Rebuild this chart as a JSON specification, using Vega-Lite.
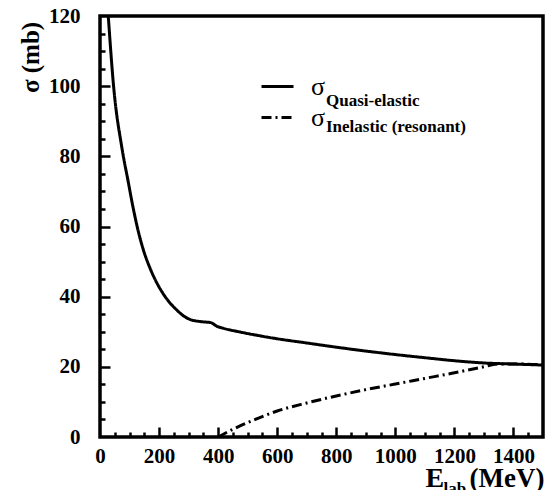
{
  "$schema": "https://vega.github.io/schema/vega-lite/v6.json",
  "width": 443,
  "height": 421,
  "autosize": "none",
  "padding": {"left": 100, "top": 16, "right": 5, "bottom": 53},
  "background": "white",
  "config": {
    "view": {"stroke": "black", "strokeWidth": 3.5},
    "axis": {
      "grid": false,
      "domain": false,
      "labelColor": "black",
      "titleColor": "black",
      "labelFontWeight": "bold",
      "titleFontWeight": "bold",
      "labelFlush": false,
      "labelOverlap": false,
      "format": "d"
    },
    "legend": {"labelColor": "black"}
  },
  "data": {
    "values": [
      {"E": 28, "sigma": 120, "series": "Quasi-elastic"},
      {"E": 46, "sigma": 100, "series": "Quasi-elastic"},
      {"E": 75, "sigma": 82, "series": "Quasi-elastic"},
      {"E": 95, "sigma": 73, "series": "Quasi-elastic"},
      {"E": 113, "sigma": 65, "series": "Quasi-elastic"},
      {"E": 130, "sigma": 58.5, "series": "Quasi-elastic"},
      {"E": 147, "sigma": 53.3, "series": "Quasi-elastic"},
      {"E": 170, "sigma": 48, "series": "Quasi-elastic"},
      {"E": 192, "sigma": 44, "series": "Quasi-elastic"},
      {"E": 215, "sigma": 40.7, "series": "Quasi-elastic"},
      {"E": 237, "sigma": 38.2, "series": "Quasi-elastic"},
      {"E": 260, "sigma": 36.2, "series": "Quasi-elastic"},
      {"E": 280, "sigma": 34.7, "series": "Quasi-elastic"},
      {"E": 305, "sigma": 33.5, "series": "Quasi-elastic"},
      {"E": 340, "sigma": 32.9, "series": "Quasi-elastic"},
      {"E": 375, "sigma": 32.6, "series": "Quasi-elastic"},
      {"E": 395, "sigma": 31.6, "series": "Quasi-elastic"},
      {"E": 417, "sigma": 31, "series": "Quasi-elastic"},
      {"E": 470, "sigma": 30, "series": "Quasi-elastic"},
      {"E": 531, "sigma": 29, "series": "Quasi-elastic"},
      {"E": 600, "sigma": 28, "series": "Quasi-elastic"},
      {"E": 700, "sigma": 26.8, "series": "Quasi-elastic"},
      {"E": 800, "sigma": 25.6, "series": "Quasi-elastic"},
      {"E": 900, "sigma": 24.5, "series": "Quasi-elastic"},
      {"E": 1000, "sigma": 23.5, "series": "Quasi-elastic"},
      {"E": 1100, "sigma": 22.6, "series": "Quasi-elastic"},
      {"E": 1219, "sigma": 21.6, "series": "Quasi-elastic"},
      {"E": 1300, "sigma": 21.1, "series": "Quasi-elastic"},
      {"E": 1400, "sigma": 20.8, "series": "Quasi-elastic"},
      {"E": 1500, "sigma": 20.5, "series": "Quasi-elastic"},
      {"E": 400, "sigma": 0, "series": "Inelastic (resonant)"},
      {"E": 450, "sigma": 2.2, "series": "Inelastic (resonant)"},
      {"E": 500, "sigma": 4.1, "series": "Inelastic (resonant)"},
      {"E": 600, "sigma": 7.4, "series": "Inelastic (resonant)"},
      {"E": 700, "sigma": 9.7, "series": "Inelastic (resonant)"},
      {"E": 800, "sigma": 11.7, "series": "Inelastic (resonant)"},
      {"E": 900, "sigma": 13.5, "series": "Inelastic (resonant)"},
      {"E": 1000, "sigma": 15.1, "series": "Inelastic (resonant)"},
      {"E": 1100, "sigma": 16.7, "series": "Inelastic (resonant)"},
      {"E": 1200, "sigma": 18.3, "series": "Inelastic (resonant)"},
      {"E": 1287, "sigma": 19.8, "series": "Inelastic (resonant)"},
      {"E": 1350, "sigma": 20.8, "series": "Inelastic (resonant)"},
      {"E": 1420, "sigma": 20.8, "series": "Inelastic (resonant)"},
      {"E": 1500, "sigma": 20.6, "series": "Inelastic (resonant)"}
    ]
  },
  "layer": [
    {
      "mark": {"type": "line", "strokeWidth": 3, "interpolate": "monotone", "clip": true},
      "encoding": {
        "x": {"field": "E", "type": "quantitative", "scale": {"domain": [0, 1500], "nice": false, "zero": false},
          "axis": {"orient": "bottom", "values": [0, 200, 400, 600, 800, 1000, 1200, 1400], "ticks": false, "labelPadding": 8, "labelFontSize": 21, "labelFont": "Times New Roman",
            "title": "E", "titleFont": "Times New Roman", "titleFontSize": 28, "titleX": 325, "titleY": 49, "titleAlign": "left", "titleBaseline": "alphabetic", "titleAngle": 0}},
        "y": {"field": "sigma", "type": "quantitative", "scale": {"domain": [0, 120], "nice": false, "zero": false},
          "axis": {"orient": "left", "values": [0, 20, 40, 60, 80, 100, 120], "ticks": false, "labelPadding": 20, "labelFontSize": 21, "labelFont": "Times New Roman",
            "title": "σ (mb)", "titleFont": "Times New Roman", "titleFontSize": 25, "titleX": -62, "titleY": 41, "titleAngle": 270, "titleAlign": "center", "titleBaseline": "alphabetic"}},
        "color": {"field": "series", "type": "nominal",
          "scale": {"domain": ["Quasi-elastic", "Inelastic (resonant)"], "range": ["black", "black"]},
          "legend": {"orient": "none", "legendX": 160, "legendY": 67, "title": null, "symbolType": "stroke", "symbolSize": 1024,
            "symbolStrokeWidth": 3, "symbolOpacity": 0, "symbolFillColor": "transparent", "labelFontSize": 17, "labelFontWeight": "bold", "labelFont": "Times New Roman",
            "labelOffset": 31, "rowPadding": 0, "padding": 0, "labelLimit": 300}},
        "strokeDash": {"field": "series", "type": "nominal", "sort": ["Quasi-elastic", "Inelastic (resonant)"],
          "scale": {"range": [[1, 0], [10, 4, 2, 4]]},
          "legend": {"orient": "none", "legendX": 160, "legendY": 53, "title": null, "symbolType": "stroke", "symbolSize": 1024,
            "symbolStrokeWidth": 3, "symbolStrokeColor": "black", "labelExpr": "'σ'", "labelFontSize": 26, "labelFont": "Times New Roman",
            "labelOffset": 16, "rowPadding": 0, "padding": 0}}
      }
    },
    {
      "mark": {"type": "line", "strokeOpacity": 0},
      "encoding": {
        "x": {"field": "E", "type": "quantitative",
          "axis": {"orient": "bottom", "offset": -10, "values": [200, 400, 600, 800, 1000, 1200, 1400], "ticks": true, "tickSize": 10, "tickColor": "#000000", "tickWidth": 2.5, "zindex": 2, "labels": false,
            "title": "lab", "titleFont": "Times New Roman", "titleFontSize": 17, "titleX": 343, "titleY": 66, "titleAlign": "left", "titleBaseline": "alphabetic", "titleAngle": 0}},
        "y": {"field": "sigma", "type": "quantitative",
          "axis": {"orient": "left", "offset": -10, "values": [20, 40, 60, 80, 100], "ticks": true, "tickSize": 10, "tickColor": "#000000", "tickWidth": 2.5, "zindex": 2, "labels": false, "title": null}},
        "detail": {"field": "series"}
      }
    },
    {
      "mark": {"type": "line", "strokeOpacity": 0},
      "encoding": {
        "x": {"field": "E", "type": "quantitative",
          "axis": {"orient": "bottom", "offset": -5, "values": [50, 100, 150, 250, 300, 350, 450, 500, 550, 650, 700, 750, 850, 900, 950, 1050, 1100, 1150, 1250, 1300, 1350, 1450], "ticks": true, "tickSize": 5, "tickColor": "#000000", "tickWidth": 2.5, "zindex": 2, "labels": false,
            "title": "(MeV)", "titleFont": "Times New Roman", "titleFontSize": 27, "titleX": 369, "titleY": 54, "titleAlign": "left", "titleBaseline": "alphabetic", "titleAngle": 0}},
        "y": {"field": "sigma", "type": "quantitative",
          "axis": {"orient": "left", "offset": -5, "values": [5, 10, 15, 25, 30, 35, 45, 50, 55, 65, 70, 75, 85, 90, 95, 105, 110, 115], "ticks": true, "tickSize": 5, "tickColor": "#000000", "tickWidth": 2.5, "zindex": 2, "labels": false, "title": null}},
        "detail": {"field": "series"}
      }
    }
  ],
  "resolve": {"axis": {"x": "independent", "y": "independent"}}
}
